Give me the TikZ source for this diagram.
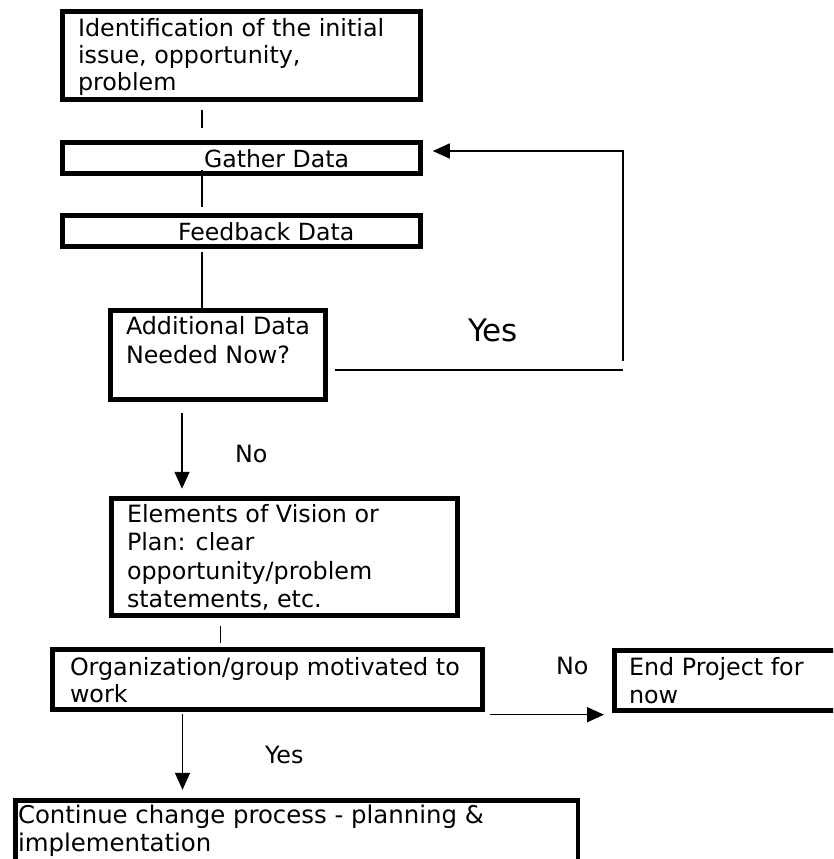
\documentclass[tikz,border=0pt]{standalone}
\usepackage{fontspec}
\setmainfont{DejaVu Sans}
\usetikzlibrary{arrows.meta,calc}
\begin{document}
\begin{tikzpicture}[x=1pt,y=-1pt,
  box/.style={draw, rectangle, line width=4.8pt, inner sep=0pt, outer sep=0pt},
  txt/.style={anchor=base west, inner sep=0pt, outer sep=0pt, align=left},
  link/.style={line width=1.5pt},
  arrow/.style={line width=1.5pt, -{Triangle[length=17pt,width=15pt]}}]
\clip (0,0) rectangle (833,859);

% boxes
\node[box, minimum width=358.3pt, minimum height=87.4pt] (ident) at (241.6,55.5) {};
\node[box, minimum width=358.3pt, minimum height=31pt] (gather) at (241.6,158) {};
\node[box, minimum width=358.3pt, minimum height=31pt] (feedback) at (241.6,231.3) {};
\node[box, minimum width=214.4pt, minimum height=88.4pt] (additional) at (218,355) {};
\node[box, minimum width=346pt, minimum height=117.5pt] (elements) at (284.5,557) {};
\node[box, minimum width=430pt, minimum height=59.4pt] (org) at (267.5,679.5) {};
\node[box, minimum width=230.2pt, minimum height=60pt] (end) at (729.9,680.5) {};
\node[box, minimum width=562.8pt, minimum height=80pt] (continue) at (296.6,840.8) {};

% box texts (each placed at the baseline of its last line)
\node[txt, font=\fontsize{23.8}{27}\selectfont] (identtxt) at (78,90.5)
  {Identification of the initial\\issue, opportunity,\\problem};
\node[txt, font=\fontsize{23.6}{28}\selectfont] (gathertxt) at (204,167) {Gather Data};
\node[txt, font=\fontsize{23.6}{28}\selectfont] (feedbacktxt) at (178,240) {Feedback Data};
\node[txt, font=\fontsize{23.8}{29}\selectfont] (additionaltxt) at (126,363)
  {Additional Data\\Needed Now?};
\node[txt, font=\fontsize{23.8}{28.4}\selectfont] (elementstxt) at (127,607.7)
  {Elements of Vision or\\Plan: clear\\opportunity/problem\\statements, etc.};
\node[txt, font=\fontsize{23.8}{27.5}\selectfont] (orgtxt) at (70,702.5)
  {Organization/group motivated to\\work};
\node[txt, font=\fontsize{23.8}{28}\selectfont] (endtxt) at (629,703)
  {End Project for\\now};
\node[txt, font=\fontsize{24.4}{28}\selectfont] (continuetxt) at (18,851)
  {Continue change process - planning \&\\implementation};

% vertical axes of the connectors
\coordinate (spine) at (202,0);
\coordinate (noaxis) at (182,0);
\coordinate (midaxis) at (220.5,0);
\coordinate (yesaxis) at (182.5,0);
\coordinate (loopx) at (623,0);

% main flow
\draw[link, shorten <=10.8pt, shorten >=14.5pt] (ident.south -| spine) -- (gather.north -| spine);
\draw[link, shorten <=-3.5pt, shorten >=8.8pt] (gather.south -| spine) -- (feedback.north -| spine);
\draw[link, shorten <=5pt] (feedback.south -| spine) -- (additional.north -| spine);
\draw[arrow, shorten <=14pt, shorten >=9.5pt] (additional.south -| noaxis) -- (elements.north -| noaxis);
\node[txt, font=\fontsize{23.8}{28}\selectfont] (nolabel) at (235,462) {No};

% loop back for more data
\draw[link] ($(additional.east)+(10,15)$) -- ($(additional.east -| loopx)+(0,15)$);
\draw[arrow] ($(additional.east -| loopx)+(0,6)$) -- ($(gather.east -| loopx)+(0,-7)$)
  -- ($(gather.east)+(12,-7)$);
\node[txt, font=\fontsize{31}{36}\selectfont] (yesbig) at (468,341) {Yes};

% motivation decision
\draw[link, shorten <=10pt, shorten >=7pt] (elements.south -| midaxis) -- (org.north -| midaxis);
\draw[arrow] ($(org.south east)+(7,5.5)$) -- ($(end.south west)+(-10.8,4.2)$);
\node[txt, font=\fontsize{23.8}{28}\selectfont] (nolabel2) at (556,674) {No};
\draw[arrow, shorten <=4.5pt, shorten >=11pt] (org.south -| yesaxis) -- (continue.north -| yesaxis);
\node[txt, font=\fontsize{23.8}{28}\selectfont] (yeslabel) at (265,763) {Yes};
\end{tikzpicture}
\end{document}
